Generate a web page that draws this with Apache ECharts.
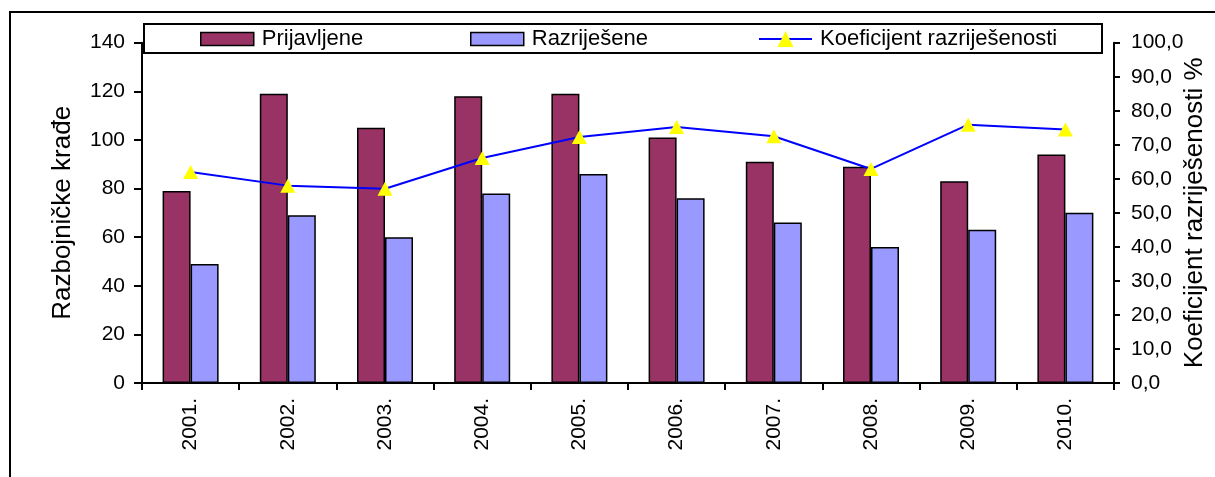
<!DOCTYPE html>
<html>
<head>
<meta charset="utf-8">
<script src="https://cdn.jsdelivr.net/npm/echarts@6/dist/echarts.min.js"></script>
<style>
  html, body { margin: 0; padding: 0; background: #fff; }
  #chart { width: 1215px; height: 477px; }
</style>
</head>
<body>
<div id="chart"></div>
<script>
var godine = ['2001.', '2002.', '2003.', '2004.', '2005.', '2006.', '2007.', '2008.', '2009.', '2010.'];
var prijavljene = [79, 119, 105, 118, 119, 101, 91, 89, 83, 94];
var razrijesene = [49, 69, 60, 78, 86, 76, 66, 56, 63, 70];
var koeficijent = [62.0, 58.0, 57.1, 66.1, 72.3, 75.2, 72.5, 62.9, 75.9, 74.5];

var FONT = 'Liberation Sans, Arial, sans-serif';

var myChart = echarts.init(document.getElementById('chart'), null, { renderer: 'canvas' });

function legenda(ime, lijevo, visina, vrh) {
    return {
        data: [ime],
        left: lijevo,
        top: vrh,
        padding: 0,
        itemWidth: 53,
        itemHeight: visina,
        selectedMode: false,
        textStyle: { fontFamily: FONT, fontSize: 22, color: '#000', lineHeight: 22, padding: [0, 0, 0, 3] }
    };
}

var leg1 = legenda('Prijavljene', 200, 13, 28);
leg1.data = [{ name: 'Prijavljene', icon: 'rect' }];
leg1.itemStyle = { borderColor: '#000', borderWidth: 1.5 };
var leg2 = legenda('Razriješene', 470, 13, 28);
leg2.data = [{ name: 'Razriješene', icon: 'rect' }];
leg2.itemStyle = { borderColor: '#000', borderWidth: 1.5 };
var leg3 = legenda('Koeficijent razriješenosti', 758, 20, 28);

var option = {
    animation: false,
    backgroundColor: '#fff',
    graphic: [
        {
            type: 'rect', z: 0,
            shape: { x: 10, y: 12, width: 1300, height: 600 },
            style: { fill: null, stroke: '#000', lineWidth: 2 }
        },
        {
            type: 'rect', z: 1,
            shape: { x: 144, y: 24, width: 958, height: 29 },
            style: { fill: '#fff', stroke: '#000', lineWidth: 2 }
        }
    ],
    legend: [leg1, leg2, leg3],
    grid: { left: 142, right: 101, top: 42.7, bottom: 94, outerBoundsMode: 'none' },
    xAxis: {
        type: 'category',
        data: godine,
        axisLine: { lineStyle: { color: '#000', width: 2 } },
        axisTick: { show: true, alignWithLabel: false, length: 7, lineStyle: { color: '#000', width: 2 } },
        axisLabel: { rotate: 90, margin: 15, color: '#000', fontFamily: FONT, fontSize: 21 }
    },
    yAxis: [
        {
            type: 'value',
            min: 0, max: 140, interval: 20,
            name: 'Razbojničke krađe',
            nameLocation: 'middle',
            nameGap: 66,
            nameMoveOverlap: false,
            nameTextStyle: { fontFamily: FONT, fontSize: 26, color: '#000' },
            axisLine: { show: true, lineStyle: { color: '#000', width: 2 } },
            axisTick: { show: true, length: 8, lineStyle: { color: '#000', width: 2 } },
            axisLabel: { margin: 17, color: '#000', fontFamily: FONT, fontSize: 21 },
            splitLine: { show: false }
        },
        {
            type: 'value',
            min: 0, max: 100, interval: 10,
            name: 'Koeficijent razriješenosti %',
            nameLocation: 'middle',
            nameGap: 68,
            nameMoveOverlap: false,
            nameTextStyle: { fontFamily: FONT, fontSize: 26, color: '#000' },
            axisLine: { show: true, lineStyle: { color: '#000', width: 2 } },
            axisTick: { show: true, length: 6, lineStyle: { color: '#000', width: 2 } },
            axisLabel: {
                margin: 17, color: '#000', fontFamily: FONT, fontSize: 21,
                formatter: function (v) { return v.toFixed(1).replace('.', ','); }
            },
            splitLine: { show: false }
        }
    ],
    series: [
        {
            name: 'Prijavljene',
            type: 'bar',
            data: prijavljene,
            barWidth: 28,
            barGap: '0%',
            itemStyle: { color: '#993366', borderColor: '#000', borderWidth: 1.5 }
        },
        {
            name: 'Razriješene',
            type: 'bar',
            data: razrijesene,
            barWidth: 28,
            barGap: '0%',
            itemStyle: { color: '#9999FF', borderColor: '#000', borderWidth: 1.5 }
        },
        {
            name: 'Koeficijent razriješenosti',
            type: 'line',
            yAxisIndex: 1,
            data: koeficijent,
            symbol: 'triangle',
            symbolSize: [15, 14],
            z: 5,
            lineStyle: { color: '#0000FF', width: 2 },
            itemStyle: { color: '#FFFF00', borderWidth: 0 }
        }
    ]
};

myChart.setOption(option);
window.addEventListener('resize', myChart.resize);
</script>
</body>
</html>
